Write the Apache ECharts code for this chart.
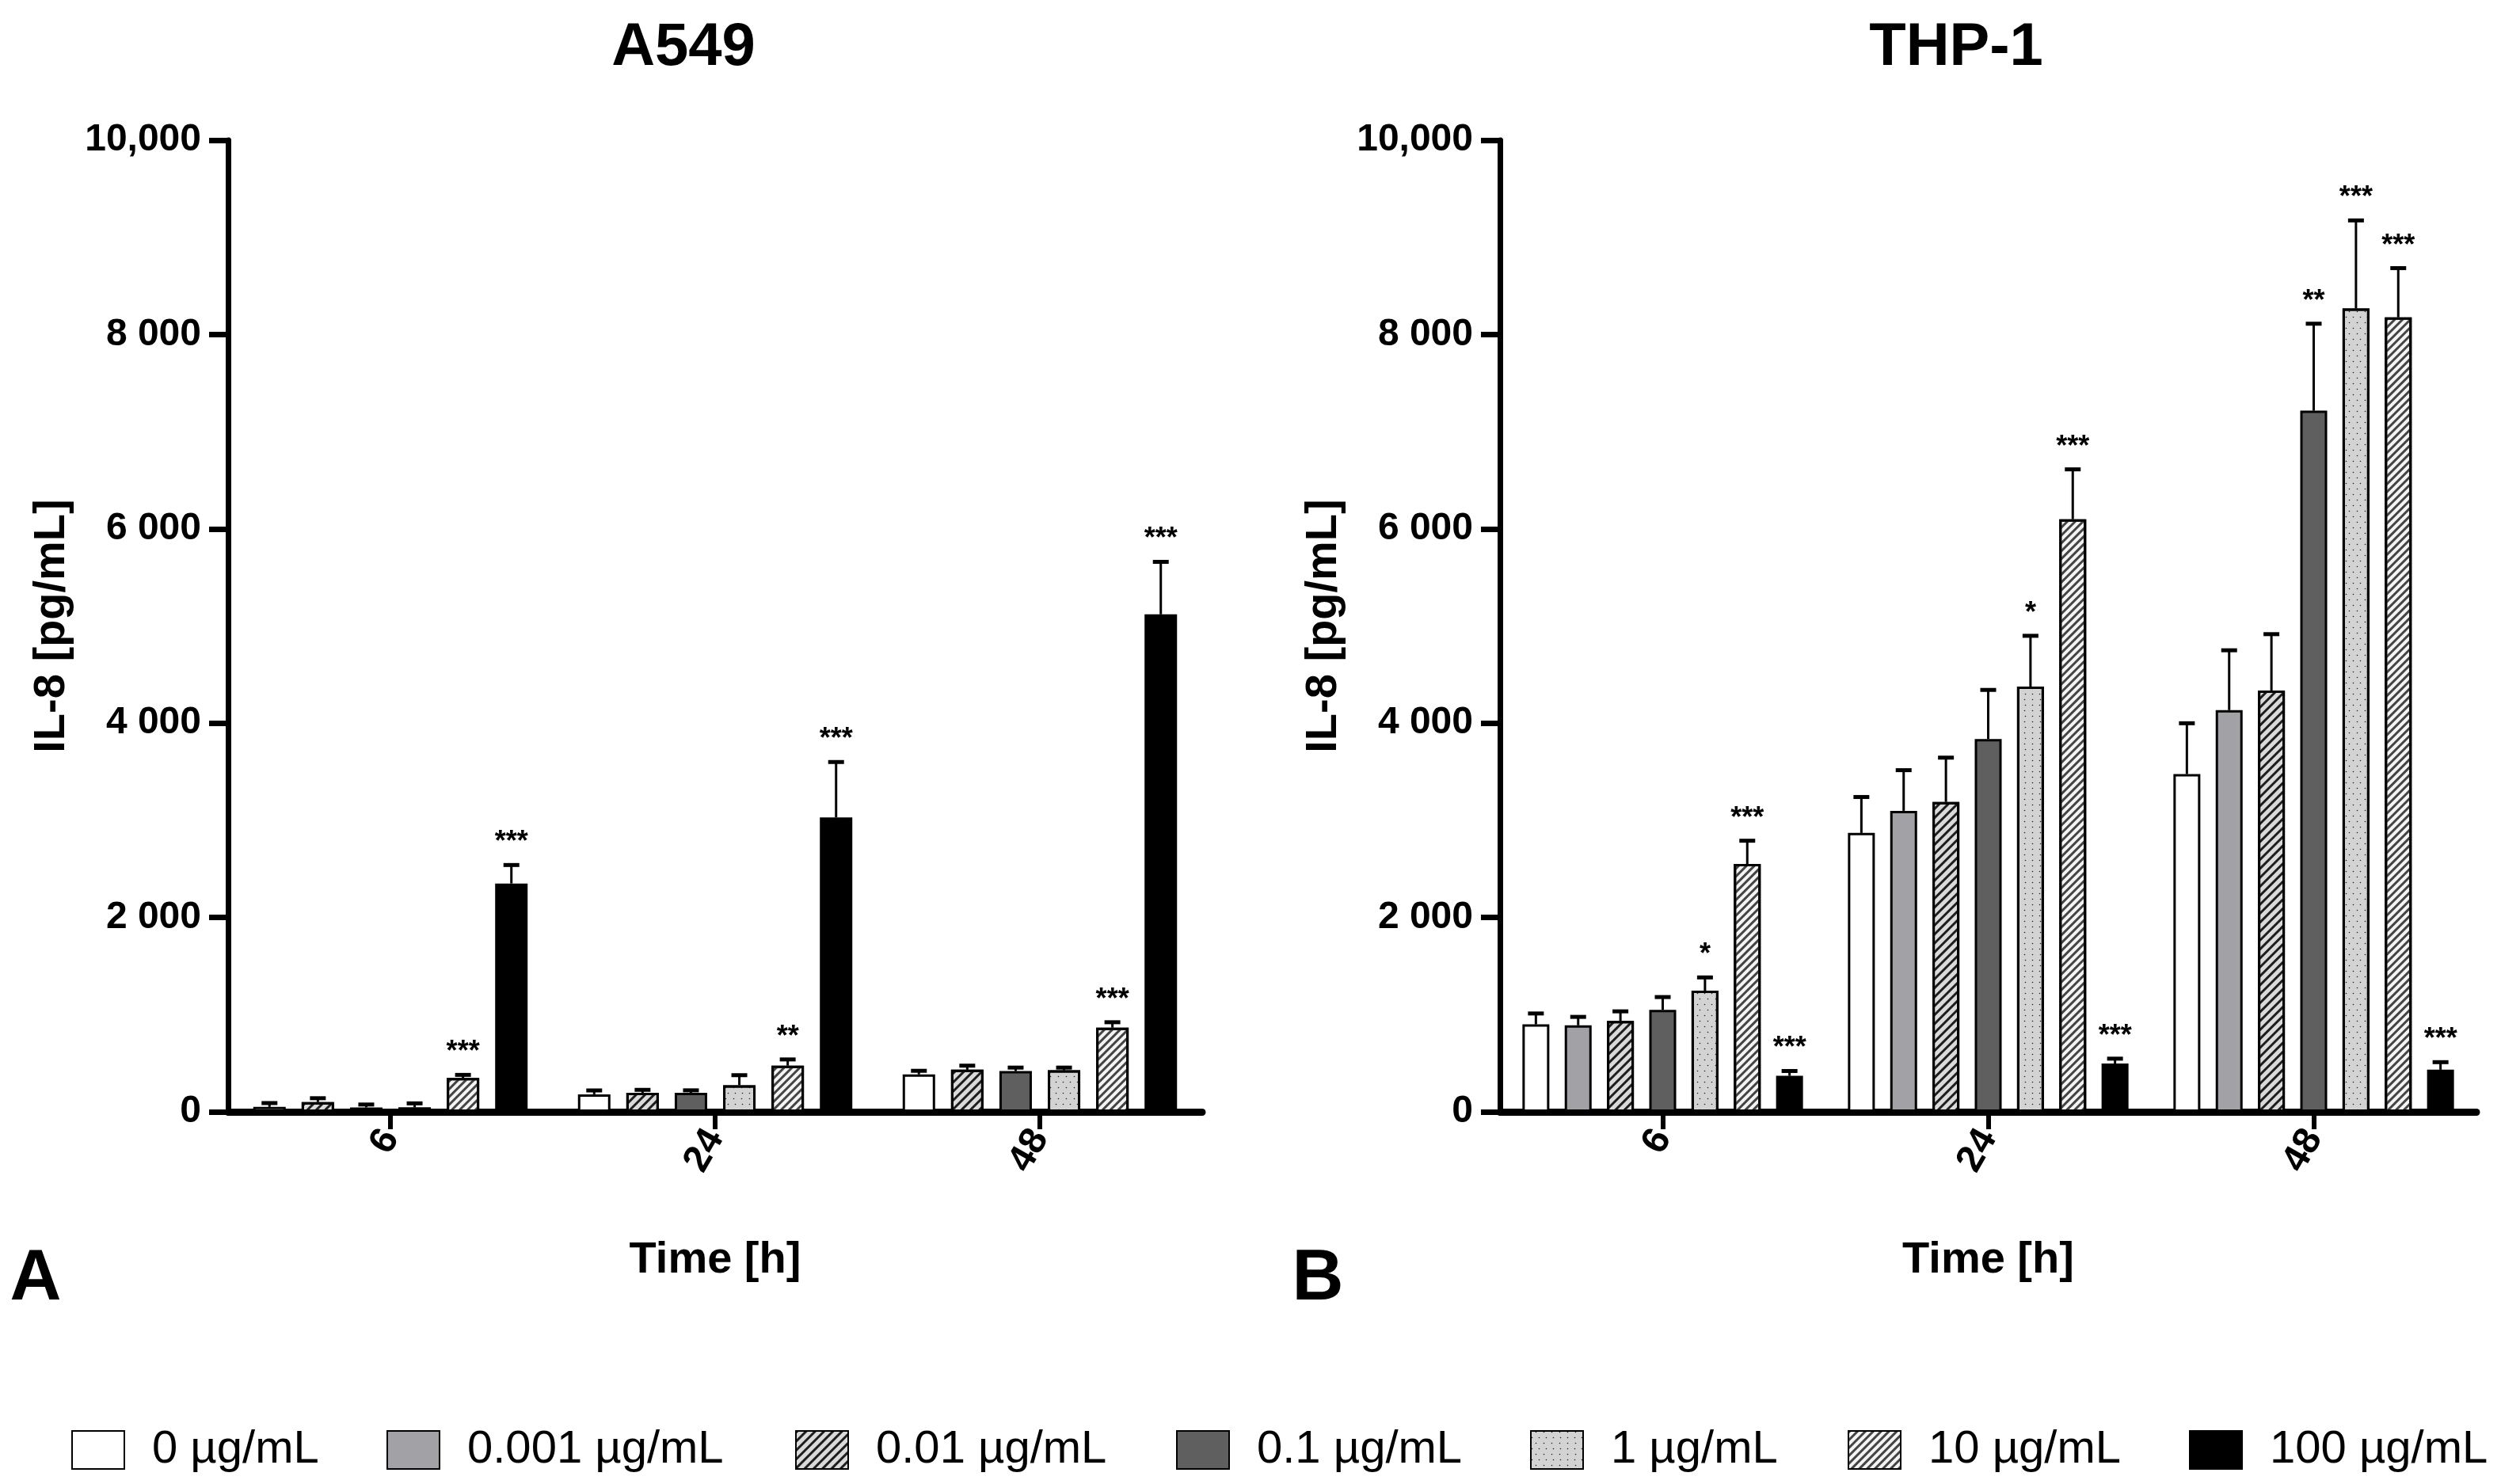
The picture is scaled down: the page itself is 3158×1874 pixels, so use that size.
<!DOCTYPE html>
<html>
<head>
<meta charset="utf-8">
<title>IL-8 release</title>
<script src="https://cdn.jsdelivr.net/npm/echarts@6/dist/echarts.min.js"></script>
<style>
  html, body { margin: 0; padding: 0; background: #fff; }
  #main { width: 3158px; height: 1874px; }
</style>
</head>
<body>
<div id="main"></div>
<script>
// data (pg/mL, mean and upper SD)
const timeLabels = ['6', '24', '48'];
const concLabels = ['0 µg/mL', '0.001 µg/mL', '0.01 µg/mL', '0.1 µg/mL', '1 µg/mL', '10 µg/mL', '100 µg/mL'];
const yTickLabels = ['0', '2 000', '4 000', '6 000', '8 000', '10,000'];

// A549 has no 0.001 µg/mL group
const a549Means = [
  [50, 180, 385],
  null,
  [100, 196, 433],
  [45, 196, 419],
  [45, 274, 427],
  [349, 475, 866],
  [2350, 3030, 5120]
];
const a549Errors = [
  [40, 40, 37],
  null,
  [40, 30, 42],
  [30, 25, 36],
  [42, 103, 28],
  [31, 64, 56],
  [190, 570, 540]
];
const a549Stars = [
  ['', '', ''], null, ['', '', ''], ['', '', ''], ['', '', ''],
  ['***', '**', '***'],
  ['***', '***', '***']
];

const thp1Means = [
  [900, 2870, 3476],
  [890, 3098, 4134],
  [936, 3189, 4336],
  [1050, 3837, 7216],
  [1246, 4376, 8268],
  [2550, 6099, 8177],
  [370, 497, 433]
];
const thp1Errors = [
  [112, 370, 523],
  [87, 418, 616],
  [98, 456, 580],
  [131, 505, 895],
  [137, 523, 906],
  [240, 513, 506],
  [50, 50, 78]
];
const thp1Stars = [
  ['', '', ''],
  ['', '', ''],
  ['', '', ''],
  ['', '', '**'],
  ['*', '*', '***'],
  ['***', '***', '***'],
  ['***', '***', '***']
];

const FONT = 'Liberation Sans, Arial, Helvetica, sans-serif';

// fill + pattern for each concentration
const stripes = (col, w, gap) => ({
  symbol: 'rect', symbolSize: 1, dashArrayX: [1, 0], dashArrayY: [w, gap],
  rotation: -Math.PI / 4, color: col
});
const styles = [
  { color: '#ffffff' },
  { color: '#a2a2a6' },
  { color: '#dadada', decal: stripes('#1e1e1e', 3, 5) },
  { color: '#5f5f5f' },
  { color: '#d3d3d3', decal: { symbol: 'circle', symbolSize: 0.55, dashArrayX: [[3, 6], [0, 4.5, 3, 1.5]], dashArrayY: [3, 4], color: '#222' } },
  { color: '#f4f4f4', decal: stripes('#444444', 3, 4) },
  { color: '#000000' }
];

const chart = echarts.init(document.getElementById('main'));

function yAxis(gi) {
  return {
    type: 'value', gridIndex: gi, min: 0, max: 10000, interval: 2000,
    name: 'IL-8 [pg/mL]', nameLocation: 'middle', nameGap: 194,
    nameTextStyle: { fontFamily: FONT, fontWeight: 'bold', fontSize: 56, color: '#000' },
    axisLine: { show: true, lineStyle: { color: '#000', width: 7 } },
    axisTick: { show: true, length: 24, lineStyle: { color: '#000', width: 7 } },
    splitLine: { show: false },
    axisLabel: {
      margin: 34, fontFamily: FONT, fontWeight: 'bold', fontSize: 48, color: '#000',
      formatter: v => yTickLabels[Math.round(v / 2000)]
    }
  };
}
function xAxis(gi) {
  return {
    type: 'category', gridIndex: gi, data: timeLabels,
    name: 'Time [h]', nameLocation: 'middle', nameGap: 160,
    nameTextStyle: { fontFamily: FONT, fontWeight: 'bold', fontSize: 56, color: '#000' },
    axisLine: { show: true, lineStyle: { color: '#000', width: 9 } },
    axisTick: { show: true, alignWithLabel: true, length: 22, lineStyle: { color: '#000', width: 6 } },
    axisLabel: { rotate: 60, margin: 26, fontFamily: FONT, fontWeight: 'bold', fontSize: 48, color: '#000' },
    splitLine: { show: false }
  };
}

const series = [];
function addPanel(gi, means, errors, stars, barW, gapRatio) {
  const order = [];
  means.forEach((m, i) => { if (m) order.push(i); });
  const n = order.length;
  const pitch = barW * (1 + gapRatio);
  order.forEach(i => {
    series.push({
      type: 'bar', name: concLabels[i], xAxisIndex: gi, yAxisIndex: gi,
      data: means[i], barWidth: barW, barGap: Math.round(gapRatio * 100) + '%',
      itemStyle: Object.assign({ borderColor: '#000', borderWidth: 3 }, styles[i]),
      emphasis: { disabled: true }, z: 2
    });
  });
  const errData = [];
  order.forEach((i, k) => {
    for (let c = 0; c < timeLabels.length; c++) {
      errData.push([c, means[i][c], errors[i][c], k, i]);
    }
  });
  series.push({
    type: 'custom', xAxisIndex: gi, yAxisIndex: gi, z: 5, silent: true,
    data: errData,
    encode: { x: 0, y: 1 },
    renderItem: (params, api) => {
      const c = api.value(0), m = api.value(1), e = api.value(2), k = api.value(3), i = api.value(4);
      const base = api.coord([c, m]);
      const top = api.coord([c, m + e]);
      const x = base[0] + (k - (n - 1) / 2) * pitch;
      const kids = [
        { type: 'line', shape: { x1: x, y1: base[1], x2: x, y2: top[1] }, style: { stroke: '#000', lineWidth: 3 } },
        { type: 'line', shape: { x1: x - 10, y1: top[1], x2: x + 10, y2: top[1] }, style: { stroke: '#000', lineWidth: 5 } }
      ];
      const s = stars[i] ? stars[i][c] : '';
      if (s) {
        kids.push({
          type: 'text', x: x, y: top[1] - 28,
          style: { text: s, fontFamily: FONT, fontWeight: 'bold', fontSize: 36, fill: '#000', align: 'center', verticalAlign: 'middle' }
        });
      }
      return { type: 'group', children: kids };
    }
  });
}
addPanel(0, a549Means, a549Errors, a549Stars, 41, 0.49);
addPanel(1, thp1Means, thp1Errors, thp1Stars, 34, 0.57);

const legendLefts = [85, 483, 999, 1480, 1927, 2328, 2759];
const legends = concLabels.map((name, i) => ({
  data: [{ name: name, icon: 'rect' }], left: legendLefts[i], top: 1797, orient: 'horizontal',
  itemWidth: 66, itemHeight: 48, selectedMode: false,
  textStyle: { fontFamily: FONT, fontSize: 58, color: '#000', padding: [0, 0, 0, 30] }
}));

chart.setOption({
  animation: false,
  backgroundColor: '#fff',
  title: [
    { text: 'A549', left: 858, top: 18, textAlign: 'center', textStyle: { fontFamily: FONT, fontWeight: 'bold', fontSize: 76, color: '#000' } },
    { text: 'THP-1', left: 2465, top: 18, textAlign: 'center', textStyle: { fontFamily: FONT, fontWeight: 'bold', fontSize: 76, color: '#000' } }
  ],
  graphic: [
    { type: 'text', x: 45, y: 1616, style: { text: 'A', fontFamily: FONT, fontWeight: 'bold', fontSize: 90, fill: '#000', align: 'center', verticalAlign: 'middle' } },
    { type: 'text', x: 1664, y: 1616, style: { text: 'B', fontFamily: FONT, fontWeight: 'bold', fontSize: 90, fill: '#000', align: 'center', verticalAlign: 'middle' } }
  ],
  legend: legends,
  grid: [
    { left: 288, right: 3158 - 1518, top: 177, bottom: 1874 - 1404 },
    { left: 1894, right: 3158 - 3127, top: 177, bottom: 1874 - 1404 }
  ],
  xAxis: [xAxis(0), xAxis(1)],
  yAxis: [yAxis(0), yAxis(1)],
  series: series
});
</script>
</body>
</html>
